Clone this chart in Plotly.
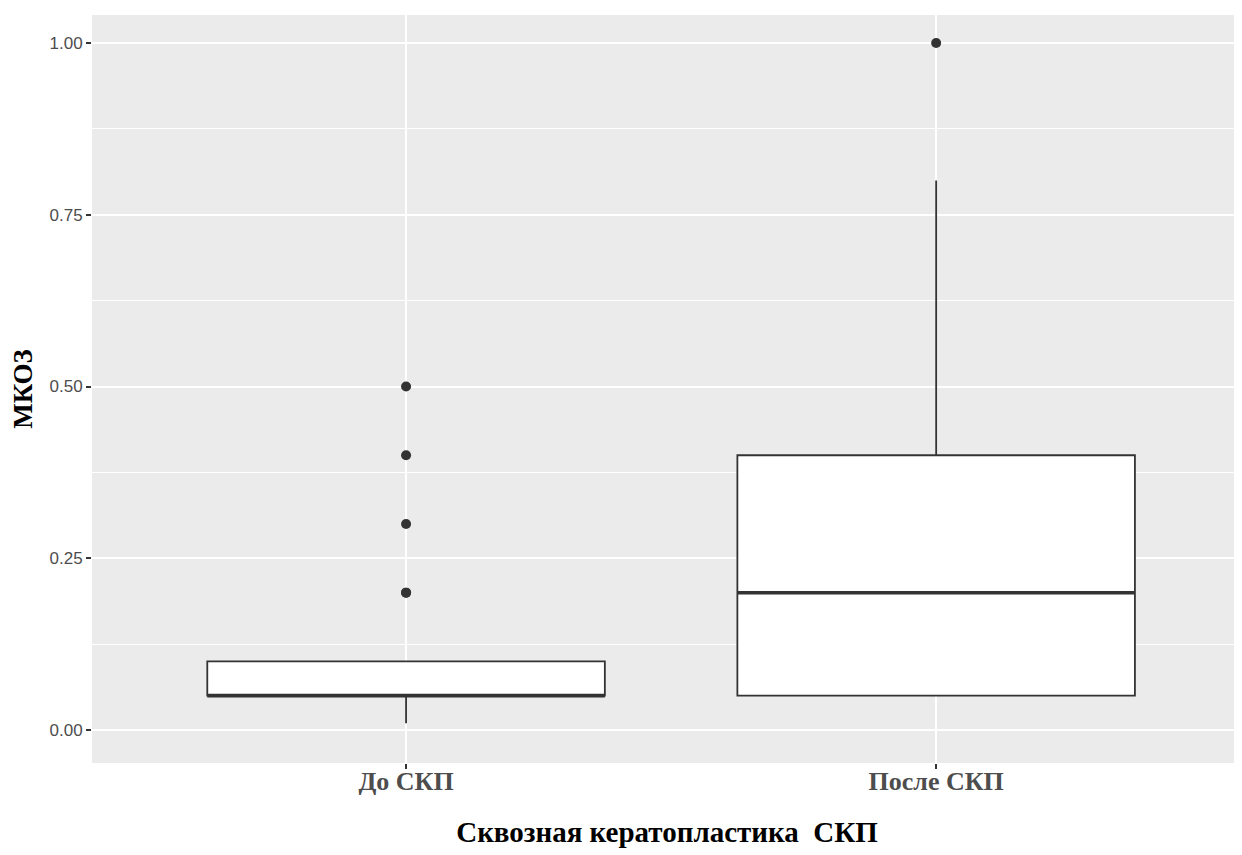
import plotly.graph_objects as go

categories = ["До СКП", "После СКП"]
q1 = [0.05, 0.05]
median = [0.05, 0.20]
q3 = [0.10, 0.40]
lower_whisker = [0.01, 0.05]
upper_whisker = [0.10, 0.80]
outliers_before = [0.2, 0.2, 0.3, 0.4, 0.5]
outliers_after = [1.0]

positions = [1, 2]
box_width = 0.75
line_col = "#333333"

fig = go.Figure()
fig.add_trace(go.Box(
    x=positions, q1=q1, median=median, q3=q3,
    lowerfence=lower_whisker, upperfence=upper_whisker,
    width=box_width, fillcolor="white",
    line=dict(color=line_col, width=1.8),
    whiskerwidth=0, boxpoints=False, showlegend=False, hoverinfo="skip",
))
# thicker median lines (ggplot fatten)
for p, m in zip(positions, median):
    fig.add_trace(go.Scatter(
        x=[p - box_width / 2, p + box_width / 2], y=[m, m], mode="lines",
        line=dict(color=line_col, width=3.5), showlegend=False, hoverinfo="skip",
    ))
fig.add_trace(go.Scatter(
    x=[positions[0]] * len(outliers_before) + [positions[1]] * len(outliers_after),
    y=outliers_before + outliers_after, mode="markers",
    marker=dict(color=line_col, size=10), showlegend=False,
))

serif = "Liberation Serif, Times New Roman, serif"
sans = "Liberation Sans, Arial, sans-serif"

fig.update_layout(
    width=1234, height=847,
    margin=dict(l=84, r=0, t=7, b=92),
    paper_bgcolor="white", plot_bgcolor="#EBEBEB",
    xaxis=dict(
        range=[0.4075, 2.577], tickvals=positions, ticktext=categories,
        showgrid=True, gridcolor="white", gridwidth=2.2, zeroline=False,
        ticks="outside", ticklen=5, tickwidth=1.5, tickcolor=line_col,
        ticklabelstandoff=-10,
        tickfont=dict(family=serif, size=26, color="#4D4D4D", weight="bold"),
        title=dict(text="<b>Сквозная кератопластика  СКП</b>",
                   font=dict(family=serif, size=29, color="black"), standoff=26),
    ),
    yaxis=dict(
        range=[-0.048, 1.0408], tickvals=[0, 0.25, 0.5, 0.75, 1.0],
        ticktext=["0.00", "0.25", "0.50", "0.75", "1.00"],
        showgrid=True, gridcolor="white", gridwidth=2.2, zeroline=False,
        minor=dict(tickvals=[0.125, 0.375, 0.625, 0.875], showgrid=True,
                   gridcolor="white", gridwidth=1.1, ticks=""),
        ticks="outside", ticklen=5, tickwidth=1.5, tickcolor=line_col,
        tickfont=dict(family=sans, size=17, color="#4D4D4D"),
        title=dict(text="<b>МКОЗ</b>", font=dict(family=serif, size=27, color="black"),
                   standoff=14),
    ),
)

fig.write_html("out.html")
